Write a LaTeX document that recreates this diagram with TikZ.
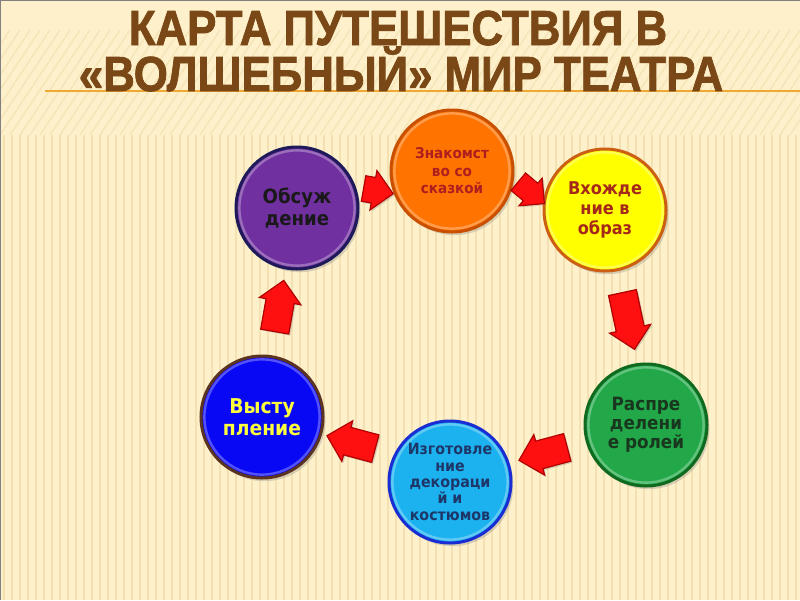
\documentclass[tikz,border=0pt]{standalone}
\usepackage{fontspec}
\setmainfont{DejaVu Sans}[FakeStretch=0.92]
\newfontfamily\titlefont{Liberation Sans}[FakeStretch=0.89, FakeBold=1.6]
\usetikzlibrary{shapes.arrows,shadows}

\definecolor{paper}{HTML}{FDF0CB}
\definecolor{stripe}{HTML}{EFD8A2}
\definecolor{titlebrown}{HTML}{7A4716}
\definecolor{ruleorange}{HTML}{F0A832}
\definecolor{arrowred}{HTML}{FF1010}
\definecolor{arrowdark}{HTML}{B00000}

\tikzset{
  stage/.style={circle, minimum size=30.5mm, inner sep=0pt, line width=0.75mm, align=center,
    font=\bfseries\fontsize{14}{15.5}\selectfont,
    drop shadow={shadow xshift=0.6mm, shadow yshift=-0.8mm, opacity=0.3},
    path picture={\draw[white, opacity=0.3, line width=0.6mm]
      (path picture bounding box.center) circle (14.4mm);}},
  redarrow/.style={single arrow, draw=arrowdark, fill=arrowred, line width=0.3mm,
    inner xsep=0pt, inner ysep=3mm, minimum height=12.5mm, minimum width=10.5mm,
    single arrow head extend=1.5mm,
    drop shadow={shadow xshift=0.4mm, shadow yshift=-0.4mm, opacity=0.3}},
  titletext/.style={anchor=base, inner sep=0pt, text=titlebrown,
    font=\titlefont\bfseries\fontsize{35}{32}\selectfont}
}

\begin{document}
\begin{tikzpicture}[x=0.25mm, y=-0.25mm]
    \useasboundingbox (0,0) rectangle (800,600);
    % background
    \fill[paper] (0,0) rectangle (800,600);
    \foreach \x in {-120,-110,...,800}
        \draw[stripe, line width=0.4mm, opacity=0.45] (\x,135) -- (\x+70,30);
    \foreach \x in {4,12,...,800}
        \draw[stripe, line width=0.5mm, opacity=0.6] (\x,135) -- (\x,600);
    \draw[gray, line width=0.4mm] (0,600) -- (0,0) -- (800,0);

    % title
    \draw[ruleorange, line width=0.5mm] (45,91) -- (800,91);
    \node[titletext] (title1) at (398,45) {КАРТА ПУТЕШЕСТВИЯ В};
    \node[titletext] (title2) at (401,91) {«ВОЛШЕБНЫЙ» МИР ТЕАТРА};

    % stages
    \node[stage, fill={rgb,255:red,112;green,48;blue,160}, draw={rgb,255:red,30;green,26;blue,90}, text=black!90]
        (obs) at (297,208) {Обсуж\\дение};
    \node[stage, fill={rgb,255:red,255;green,115;blue,0}, draw={rgb,255:red,200;green,80;blue,0},
        text={rgb,255:red,175;green,30;blue,30}, font=\bfseries\fontsize{10.5}{12.5}\selectfont]
        (znak) at (452,171) {Знакомст\\во со\\сказкой};
    \node[stage, fill={rgb,255:red,255;green,255;blue,0}, draw={rgb,255:red,205;green,95;blue,20},
        text={rgb,255:red,165;green,40;blue,25}, font=\bfseries\fontsize{12.5}{14}\selectfont]
        (vkhod) at (605,210) {Вхожде\\ние в\\образ};
    \node[stage, fill={rgb,255:red,34;green,168;blue,72}, draw={rgb,255:red,15;green,105;blue,30},
        text={rgb,255:red,25;green,55;blue,30}, font=\bfseries\fontsize{13}{13.5}\selectfont]
        (raspr) at (646,425) {Распре\\делени\\е ролей};
    \node[stage, fill={rgb,255:red,28;green,178;blue,240}, draw={rgb,255:red,25;green,45;blue,210},
        text={rgb,255:red,30;green,55;blue,105}, font=\bfseries\fontsize{11}{11.6}\selectfont]
        (izgot) at (450,482) {Изготовле\\ние\\декораци\\й и\\костюмов};
    \node[stage, fill={rgb,255:red,8;green,8;blue,245}, draw={rgb,255:red,90;green,52;blue,32},
        text={rgb,255:red,255;green,255;blue,60}, font=\bfseries\fontsize{14.5}{15.5}\selectfont]
        (vyst) at (262,417) {Высту\\пление};

    % red arrows
    \node[redarrow, minimum height=7.5mm, minimum width=10mm, inner ysep=2.6mm, rotate=-10] (a1) at (372,190) {};
    \node[redarrow, minimum height=8.5mm, minimum width=9mm, inner ysep=2.4mm, rotate=-40] (a2) at (527,189) {};
    \node[redarrow, minimum height=14.5mm, rotate=-78] (a3) at (627,314) {};
    \node[redarrow, rotate=195] (a4) at (550,452) {};
    \node[redarrow, rotate=165] (a5) at (358,444) {};
    \node[redarrow, minimum height=13mm, rotate=80] (a6) at (278,313) {};
\end{tikzpicture}
\end{document}
